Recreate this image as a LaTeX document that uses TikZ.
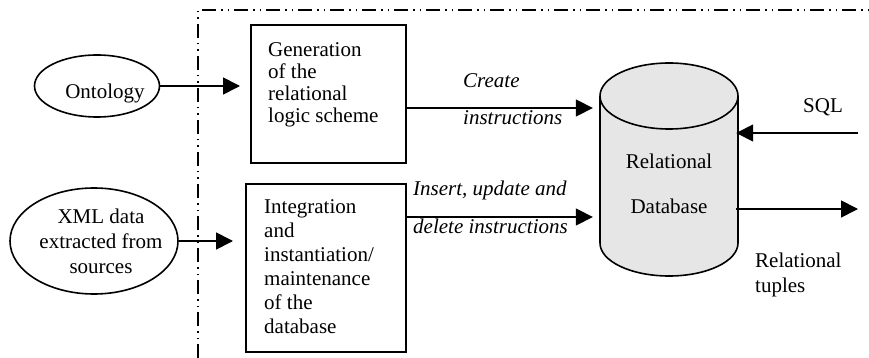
\documentclass[tikz,border=0pt]{standalone}
\usepackage{fontspec}
\setmainfont{Liberation Serif}
\usetikzlibrary{arrows.meta,shapes.geometric}

\definecolor{dbfill}{RGB}{230,230,230}

\begin{document}
\begin{tikzpicture}[x=1pt,y=-1pt,
  txt/.style={inner sep=0pt, font=\fontsize{21}{22}\selectfont},
  box/.style={draw, line width=1.8pt, inner sep=0pt, anchor=north west},
  oval/.style={draw, ellipse, line width=1.6pt, inner sep=0pt},
  arr/.style={line width=1.7pt, -{Triangle[length=17pt,width=17pt]}},
  frame/.style={line width=1.4pt, dash pattern=on 14pt off 5pt on 1.5pt off 5pt on 1.5pt off 5pt}]
\useasboundingbox (0,0) rectangle (869,358);

% system boundary (dash-dot-dot)
\draw[frame] (198,358) -- (198,10) -- (869,10);

% external inputs
\node[oval, minimum width=125pt, minimum height=62pt] (onto) at (97,86) {};
\node[txt, anchor=base] at (105,99) {Ontology};
\node[oval, minimum width=168pt, minimum height=106pt] (xml) at (94,241) {};
\node[txt, anchor=north, align=center, font=\fontsize{21}{25}\selectfont] at (101,208.7)
  {XML data\\extracted from\\sources};

% processing boxes
\node[box, minimum width=155pt, minimum height=138pt] (gen) at (250,24) {};
\node[txt, anchor=north west, align=left] at (268,42.8)
  {Generation\\of the\\relational\\logic scheme};
\node[box, minimum width=160pt, minimum height=168pt] (integ) at (245,183) {};
\node[txt, anchor=north west, align=left, font=\fontsize{21}{24}\selectfont] at (264,199)
  {Integration\\and\\instantiation/\\maintenance\\of the\\database};

% relational database cylinder
\node[inner sep=0pt, minimum width=138pt, minimum height=213pt] (db) at (669,169.5) {};
\path[fill=dbfill, draw, line width=1.6pt]
  (600,96) -- (600,243) arc[start angle=180, end angle=0, x radius=69, y radius=33]
  -- (738,96) arc[start angle=0, end angle=-180, x radius=69, y radius=33] -- cycle;
\draw[line width=1.6pt] (600,96) arc[start angle=180, end angle=0, x radius=69, y radius=33];
\node[txt, anchor=base] at (669,168) {Relational};
\node[txt, anchor=base] at (669,213) {Database};

% connectors
\coordinate (createY) at (0,108);
\coordinate (insertY) at (0,217);
\coordinate (sqlIn) at (858,133);
\coordinate (tupOut) at (858,209);

\draw[arr] (onto.east) -- ([xshift=-10pt]gen.west |- onto.east);
\draw[arr] (xml.east) -- ([xshift=-12pt]integ.west |- xml.east);
\draw[arr] (gen.east |- createY) -- ([xshift=-7pt]db.west |- createY);
\draw[arr] (integ.east |- insertY) -- ([xshift=-7pt]db.west |- insertY);
\draw[arr] (sqlIn) -- ([xshift=-2pt]db.east |- sqlIn);
\draw[arr] ([xshift=-2pt]db.east |- tupOut) -- (tupOut);

% connector labels
\node[txt, anchor=base west, font=\fontsize{21}{22}\selectfont\itshape] at (463,88) {Create};
\node[txt, anchor=base west, font=\fontsize{21}{22}\selectfont\itshape] at (463,125) {instructions};
\node[txt, anchor=base west, font=\fontsize{21}{22}\selectfont\itshape] at (413,195) {Insert, update and};
\node[txt, anchor=base west, font=\fontsize{21}{22}\selectfont\itshape] at (413,233) {delete instructions};
\node[txt, anchor=base] at (823,113) {SQL};
\node[txt, anchor=base west] at (755,267) {Relational};
\node[txt, anchor=base west] at (755,292) {tuples};
\end{tikzpicture}
\end{document}
